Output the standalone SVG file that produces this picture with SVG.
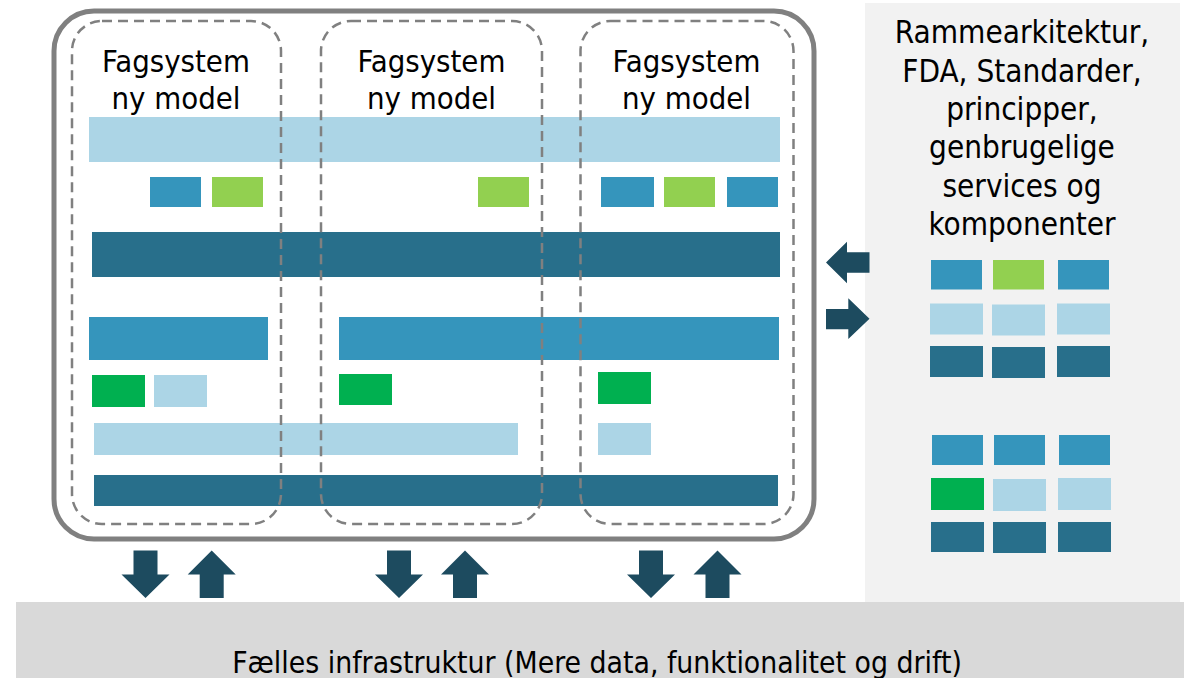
<svg xmlns="http://www.w3.org/2000/svg" width="1184" height="678" viewBox="0 0 1184 678">
  <defs>
    <style>
      .txt { font-family: "DejaVu Sans Condensed", "DejaVu Sans", sans-serif; font-stretch: condensed; fill: #000000; text-anchor: middle; }
      .col { font-size: 30.8px; }
      .pan { font-size: 31.2px; }
      .bot { font-size: 29.8px; }
      .lb { fill: #acd5e6; }
      .bl { fill: #3595bc; }
      .dk { fill: #286f8b; }
      .yg { fill: #92d050; }
      .gr { fill: #00b050; }
      .dash { fill: none; stroke: #808080; stroke-width: 2.5; stroke-dasharray: 10 6; }
      .arr { fill: #1d4b5f; }
    </style>
  </defs>

  <rect width="1184" height="678" fill="#ffffff"/>

  <!-- Right panel -->
  <g id="panel">
    <rect x="865" y="3" width="315" height="600" fill="#f2f2f2"/>
    <text class="txt pan" x="1022" y="43.3">Rammearkitektur,</text>
    <text class="txt pan" x="1022" y="81.7">FDA, Standarder,</text>
    <text class="txt pan" x="1022" y="120">principper,</text>
    <text class="txt pan" x="1022" y="158.3">genbrugelige</text>
    <text class="txt pan" x="1022" y="196.7">services og</text>
    <text class="txt pan" x="1022" y="235">komponenter</text>
    <g id="panel-grid-top">
      <rect class="bl" x="931" y="260" width="51" height="29.5"/>
      <rect class="yg" x="993" y="260" width="51" height="29.5"/>
      <rect class="bl" x="1058" y="260" width="51" height="29.5"/>
      <rect class="lb" x="930" y="303.5" width="53" height="31"/>
      <rect class="lb" x="992" y="304.5" width="53" height="31"/>
      <rect class="lb" x="1057" y="303.5" width="53" height="31"/>
      <rect class="dk" x="930" y="346" width="53" height="31"/>
      <rect class="dk" x="992" y="347" width="53" height="31"/>
      <rect class="dk" x="1057" y="346" width="53" height="31"/>
    </g>
    <g id="panel-grid-bottom">
      <rect class="bl" x="932" y="435" width="51" height="30"/>
      <rect class="bl" x="994" y="435" width="51" height="30"/>
      <rect class="bl" x="1059" y="435" width="51" height="30"/>
      <rect class="gr" x="931" y="478" width="53" height="32"/>
      <rect class="lb" x="993" y="479" width="53" height="32"/>
      <rect class="lb" x="1058" y="478" width="53" height="32"/>
      <rect class="dk" x="931" y="522" width="53" height="30"/>
      <rect class="dk" x="993" y="522" width="53" height="31"/>
      <rect class="dk" x="1058" y="522" width="53" height="30"/>
    </g>
  </g>

  <!-- Bottom infrastructure -->
  <g id="infrastructure">
    <rect x="16" y="602" width="1168" height="76" fill="#d9d9d9"/>
    <text class="txt bot" x="597" y="673">Fælles infrastruktur (Mere data, funktionalitet og drift)</text>
  </g>

  <!-- Main container -->
  <g id="container">
    <rect x="54" y="11" width="760" height="528" rx="40" ry="40" fill="#ffffff" stroke="#808080" stroke-width="5"/>
  </g>

  <g id="bars">
    <rect class="lb" x="89" y="117" width="691" height="45"/>
    <rect class="bl" x="150" y="177" width="51" height="30"/>
    <rect class="yg" x="212" y="177" width="51" height="30"/>
    <rect class="yg" x="478" y="177" width="51" height="30"/>
    <rect class="bl" x="601" y="177" width="53" height="30"/>
    <rect class="yg" x="664" y="177" width="51" height="30"/>
    <rect class="bl" x="727" y="177" width="51" height="30"/>
    <rect class="dk" x="92" y="232" width="688" height="45"/>
    <rect class="bl" x="89" y="317" width="179" height="43"/>
    <rect class="bl" x="339" y="317" width="440" height="43"/>
    <rect class="gr" x="92" y="375" width="53" height="32"/>
    <rect class="lb" x="154" y="375" width="53" height="32"/>
    <rect class="gr" x="339" y="374" width="53" height="31"/>
    <rect class="gr" x="598" y="372" width="53" height="32"/>
    <rect class="lb" x="94" y="423" width="424" height="32"/>
    <rect class="lb" x="598" y="423" width="53" height="32"/>
    <rect class="dk" x="94" y="475" width="684" height="31"/>
  </g>

  <g id="fagsystem-1">
    <rect class="dash" x="72" y="21" width="209" height="503" rx="30" ry="30"/>
    <text class="txt col" x="176" y="72">Fagsystem</text>
    <text class="txt col" x="176" y="109">ny model</text>
  </g>
  <g id="fagsystem-2">
    <rect class="dash" x="321" y="21" width="221" height="503" rx="30" ry="30"/>
    <text class="txt col" x="431.5" y="72">Fagsystem</text>
    <text class="txt col" x="431.5" y="109">ny model</text>
  </g>
  <g id="fagsystem-3">
    <rect class="dash" x="580.5" y="21" width="213" height="503" rx="30" ry="30"/>
    <text class="txt col" x="686.5" y="72">Fagsystem</text>
    <text class="txt col" x="686.5" y="109">ny model</text>
  </g>

  <!-- Connectors -->
  <g id="connectors">
    <path class="arr" d="M133.5,550.5 H157.5 V574.5 H169.5 L145.5,598 L121.5,574.5 H133.5 Z"/>
    <path class="arr" d="M211.7,550.5 L235.7,574.5 H223.7 V598 H199.7 V574.5 H187.7 Z"/>
    <path class="arr" d="M387,550.5 H411 V574.5 H423 L399,598 L375,574.5 H387 Z"/>
    <path class="arr" d="M465,550.5 L489,574.5 H477 V598 H453 V574.5 H441 Z"/>
    <path class="arr" d="M639,550.5 H663 V574.5 H675 L651,598 L627,574.5 H639 Z"/>
    <path class="arr" d="M717.5,550.5 L741.5,574.5 H729.5 V598 H705.5 V574.5 H693.5 Z"/>
    <path class="arr" d="M826,262.5 L847,241.7 V252.3 H869.5 V272.7 H847 V283.3 Z"/>
    <path class="arr" d="M826,309 H848.3 V298.3 L869.5,318.7 L848.3,339 V329.3 H826 Z"/>
  </g>
</svg>
